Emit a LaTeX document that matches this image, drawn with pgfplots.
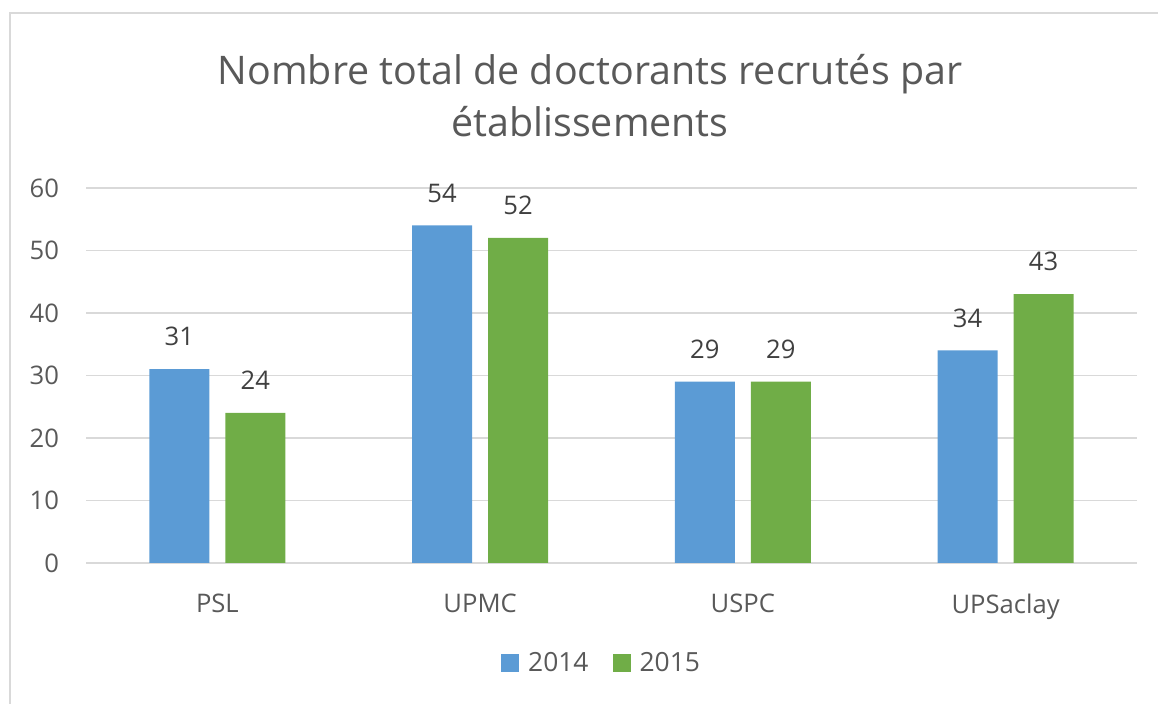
\documentclass[border=0pt]{standalone}
\usepackage{pgfplots}
\pgfplotsset{compat=1.18}
\usepackage{fontspec}
\setmainfont{Open Sans}
\definecolor{blueA}{HTML}{5B9BD5}
\definecolor{greenA}{HTML}{70AD47}
\definecolor{txt}{HTML}{595959}
\definecolor{lbl}{HTML}{404040}
\definecolor{gridc}{HTML}{D9D9D9}
\begin{document}
\begin{tikzpicture}[x=1pt,y=1pt]
\useasboundingbox (0,0) rectangle (579,352);
\draw[gridc, line width=1pt] (5,0) -- (5,345.5) -- (585,345.5);
\node[align=center, text=txt, font=\fontsize{19.7}{26}\selectfont] at (295,304) {Nombre total de doctorants recrutés par\\établissements};
\begin{axis}[
  at={(43pt,70.5pt)}, anchor=south west, scale only axis,
  width=525.5pt, height=187.5pt,
  ymin=0, ymax=60, ytick={0,10,...,60},
  xmin=-0.5, xmax=3.5, xtick=data,
  xticklabels={PSL,UPMC,USPC,UPSaclay},
  ybar=8pt, bar width=30pt,
  ymajorgrids, grid style={gridc, line width=0.75pt},
  axis line style={draw=none}, major tick length=0pt,
  tick label style={text=txt, font=\fontsize{12.8}{15}\selectfont},
  /pgf/number format/assume math mode=true,
  yticklabel style={xshift=-10pt},
  xticklabel style={yshift=-12pt},
  nodes near coords,
  every node near coord/.append style={text=lbl, font=\fontsize{12.8}{15}\selectfont, yshift=8pt},
  legend columns=2,
  legend style={at={(0.4915,-0.2667)}, anchor=center, draw=none, fill=none,
    font=\fontsize{13.2}{15}\selectfont, text=txt,
    /tikz/every even column/.append style={column sep=10pt}},
  legend image code/.code={\fill[#1] (0pt,-4.5pt) rectangle (9pt,4.5pt); \path (11.5pt,0pt);},
]
\addplot[fill=blueA, draw=none] coordinates {(0,31) (1,54) (2,29) (3,34)};
\addplot[fill=greenA, draw=none] coordinates {(0,24) (1,52) (2,29) (3,43)};
\legend{2014,2015}
\end{axis}
\end{tikzpicture}
\end{document}
